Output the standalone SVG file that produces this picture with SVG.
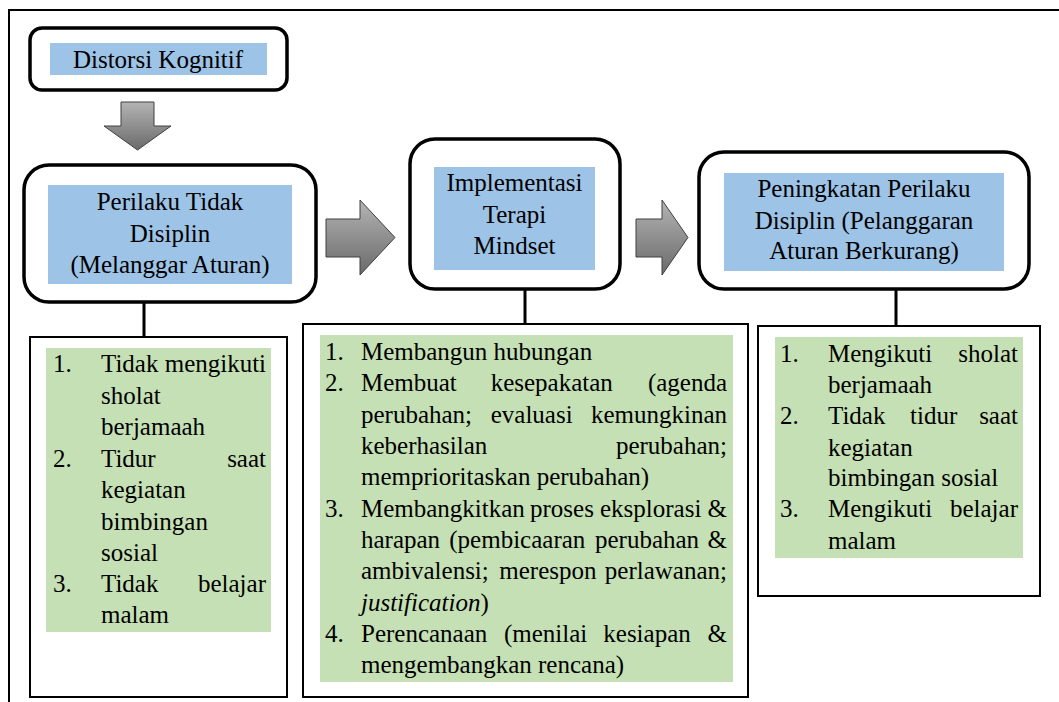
<svg xmlns="http://www.w3.org/2000/svg" width="1059" height="702" viewBox="0 0 1059 702">
<style>
.t{font-family:"Liberation Serif","Times New Roman",serif;font-size:25px;fill:#000}
.c{text-anchor:middle}
.e{text-anchor:end}
.rb{fill:#fff;stroke:#000;stroke-width:3.5}
.blue{fill:#9dc3e6}
.green{fill:#c5e0b4}
.lb{fill:#fff;stroke:#000;stroke-width:2}
.arr{fill:url(#g);stroke:#404040;stroke-width:1}
.con{stroke:#000;stroke-width:3;fill:none}
</style>
<defs>
<linearGradient id="g" x1="0" y1="0" x2="0" y2="1">
<stop offset="0" stop-color="#b4b4b4"/>
<stop offset="1" stop-color="#6a6a6a"/>
</linearGradient>
</defs>
<rect width="1059" height="702" fill="#fff"/>
<path d="M9 702 V10 H1059" fill="none" stroke="#000" stroke-width="2"/>

<g id="connectors">
<path class="arr" d="M121 102 H154 V126 H171 L137.5 150 L104 126 H121 Z"/>
<path class="arr" d="M326 219 H360 V200 L395 237.5 L360 275 V257 H326 Z"/>
<path class="arr" d="M636 219 H662 V200 L688 237.5 L662 275 V257 H636 Z"/>
<path class="con" d="M144 302 V337"/>
<path class="con" d="M525 289 V324"/>
<path class="con" d="M896 289 V326"/>
</g>

<g id="distorsi">
<rect class="rb" x="30" y="28" width="257" height="62" rx="12"/>
<rect class="blue" x="50" y="43" width="217" height="32"/>
<text class="t c" x="158" y="68">Distorsi Kognitif</text>
</g>

<g id="perilaku">
<rect class="rb" x="24" y="165" width="292" height="137" rx="25"/>
<rect class="blue" x="48" y="185" width="244" height="99"/>
<text class="t c" x="170" y="210">Perilaku Tidak</text>
<text class="t c" x="170" y="242">Disiplin</text>
<text class="t c" x="170" y="273">(Melanggar Aturan)</text>
</g>

<g id="implementasi">
<rect class="rb" x="410" y="139" width="210" height="150" rx="25"/>
<rect class="blue" x="434" y="167" width="161" height="103"/>
<text class="t c" x="514.5" y="191">Implementasi</text>
<text class="t c" x="514.5" y="223">Terapi</text>
<text class="t c" x="514.5" y="254">Mindset</text>
</g>

<g id="peningkatan">
<rect class="rb" x="699" y="152" width="330" height="137" rx="25"/>
<rect class="blue" x="724" y="173" width="280" height="98"/>
<text class="t c" x="864" y="197">Peningkatan Perilaku</text>
<text class="t c" x="864" y="229">Disiplin (Pelanggaran</text>
<text class="t c" x="864" y="259">Aturan Berkurang)</text>
</g>

<g id="list-left">
<rect class="lb" x="30" y="337" width="257" height="360"/>
<rect class="green" x="46" y="348" width="225" height="284"/>
<text class="t" x="53" y="372">1.</text>
<text class="t" x="101" y="372">Tidak mengikuti</text>
<text class="t" x="101" y="404">sholat</text>
<text class="t" x="101" y="435">berjamaah</text>
<text class="t" x="53" y="467">2.</text>
<text class="t" x="101" y="467">Tidur</text>
<text class="t e" x="266" y="467">saat</text>
<text class="t" x="101" y="498">kegiatan</text>
<text class="t" x="101" y="530">bimbingan</text>
<text class="t" x="101" y="561">sosial</text>
<text class="t" x="53" y="592">3.</text>
<text class="t" x="101" y="592">Tidak</text>
<text class="t e" x="266" y="592">belajar</text>
<text class="t" x="101" y="623">malam</text>
</g>

<g id="list-middle">
<rect class="lb" x="303" y="324" width="445" height="373"/>
<rect class="green" x="320" y="335" width="413" height="347"/>
<text class="t" x="325" y="360">1.</text>
<text class="t" x="361" y="360">Membangun hubungan</text>
<text class="t" x="325" y="391">2.</text>
<text class="t" x="361" y="391">Membuat</text>
<text class="t" x="490.7" y="391">kesepakatan</text>
<text class="t e" x="727" y="391">(agenda</text>
<text class="t" x="361" y="423">perubahan;</text>
<text class="t" x="490.7" y="423">evaluasi</text>
<text class="t e" x="727" y="423">kemungkinan</text>
<text class="t" x="361" y="454">keberhasilan</text>
<text class="t e" x="727" y="454">perubahan;</text>
<text class="t" x="361" y="485">memprioritaskan perubahan)</text>
<text class="t" x="325" y="517">3.</text>
<text class="t" x="361" y="517">Membangkitkan</text>
<text class="t" x="530" y="517">proses</text>
<text class="t" x="600" y="517">eksplorasi</text>
<text class="t e" x="727" y="517">&amp;</text>
<text class="t" x="361" y="548">harapan</text>
<text class="t" x="449.3" y="548">(pembicaaran</text>
<text class="t" x="595" y="548">perubahan</text>
<text class="t e" x="727" y="548">&amp;</text>
<text class="t" x="361" y="579">ambivalensi;</text>
<text class="t" x="499.3" y="579">merespon</text>
<text class="t e" x="727" y="579">perlawanan;</text>
<text class="t" x="361" y="611"><tspan font-style="italic">justification</tspan>)</text>
<text class="t" x="325" y="642">4.</text>
<text class="t" x="361" y="642">Perencanaan</text>
<text class="t" x="504" y="642">(menilai</text>
<text class="t" x="603.3" y="642">kesiapan</text>
<text class="t e" x="727" y="642">&amp;</text>
<text class="t" x="361" y="673">mengembangkan rencana)</text>
</g>

<g id="list-right">
<rect class="lb" x="758" y="326" width="282" height="270"/>
<rect class="green" x="775" y="337" width="248" height="221"/>
<text class="t" x="780" y="362">1.</text>
<text class="t" x="828" y="362">Mengikuti</text>
<text class="t e" x="1018" y="362">sholat</text>
<text class="t" x="828" y="393">berjamaah</text>
<text class="t" x="780" y="424">2.</text>
<text class="t" x="828" y="424">Tidak</text>
<text class="t" x="910" y="424">tidur</text>
<text class="t e" x="1018" y="424">saat</text>
<text class="t" x="828" y="456">kegiatan</text>
<text class="t" x="828" y="486">bimbingan sosial</text>
<text class="t" x="780" y="517">3.</text>
<text class="t" x="828" y="517">Mengikuti</text>
<text class="t e" x="1018" y="517">belajar</text>
<text class="t" x="828" y="549">malam</text>
</g>
</svg>
